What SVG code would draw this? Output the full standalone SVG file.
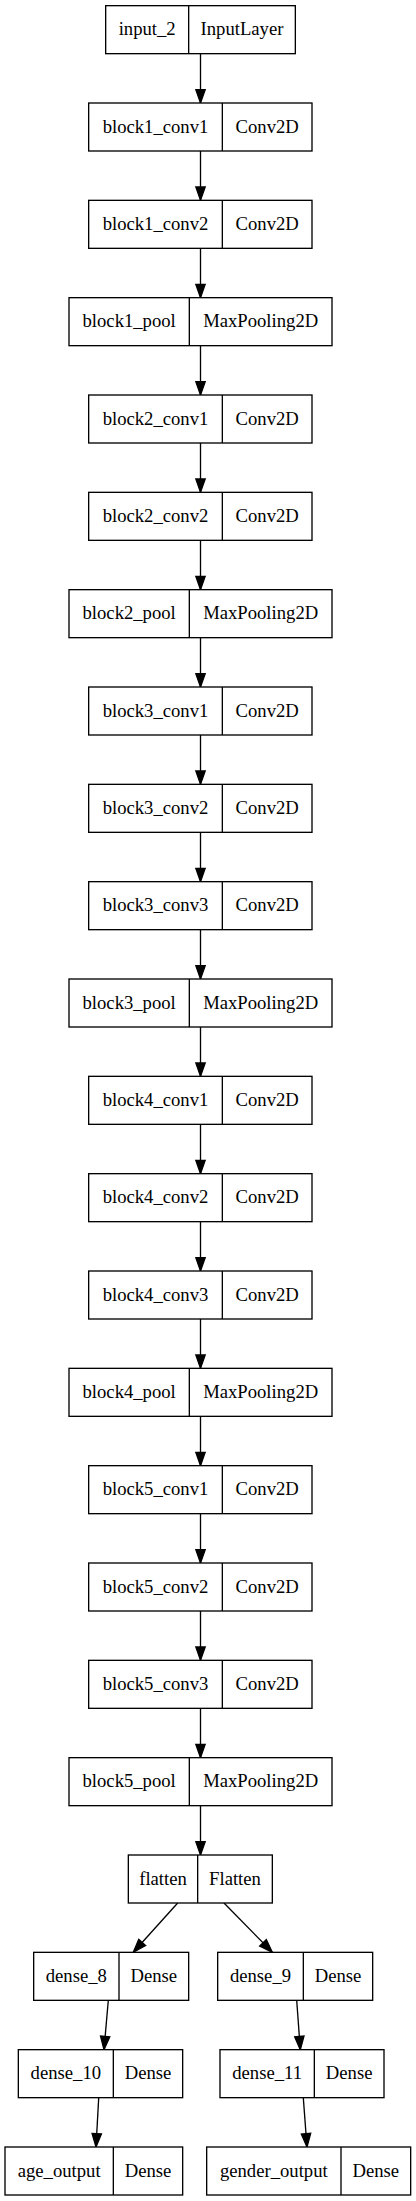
<svg xmlns="http://www.w3.org/2000/svg" width="416" height="2201" viewBox="0 0 416 2201">
<style>
.n rect{fill:#fff;stroke:#000;stroke-width:1.33}
.n line{stroke:#000;stroke-width:1.33}
.n text{font-family:"Liberation Serif","Times New Roman",serif;font-size:18.67px;text-anchor:middle;fill:#000}
.e path{fill:none;stroke:#000;stroke-width:1.33;marker-end:url(#ah)}
</style>
<defs>
<marker id="ah" markerUnits="userSpaceOnUse" markerWidth="15" markerHeight="11" refX="13.33" refY="4.67" orient="auto" overflow="visible">
<path d="M0,0 L13.33,4.67 L0,9.33 z" fill="#000" stroke="#000" stroke-width="1.33"/>
</marker>
</defs>
<rect width="416" height="2201" fill="#fff"/>
<g id="connectors" class="e">
<path d="M200.5,53.67 L200.5,103"/>
<path d="M200.5,151 L200.5,200.33"/>
<path d="M200.5,248.33 L200.5,297.67"/>
<path d="M200.5,345.67 L200.5,395"/>
<path d="M200.5,443 L200.5,492.33"/>
<path d="M200.5,540.33 L200.5,589.67"/>
<path d="M200.5,637.67 L200.5,687"/>
<path d="M200.5,735 L200.5,784.33"/>
<path d="M200.5,832.33 L200.5,881.67"/>
<path d="M200.5,929.67 L200.5,979"/>
<path d="M200.5,1027 L200.5,1076.33"/>
<path d="M200.5,1124.33 L200.5,1173.67"/>
<path d="M200.5,1221.67 L200.5,1271"/>
<path d="M200.5,1319 L200.5,1368.33"/>
<path d="M200.5,1416.33 L200.5,1465.67"/>
<path d="M200.5,1513.67 L200.5,1563"/>
<path d="M200.5,1611 L200.5,1660.33"/>
<path d="M200.5,1708.33 L200.5,1757.67"/>
<path d="M200.5,1805.67 L200.5,1855"/>
<path d="M177.7,1903 L133.3,1952.3"/>
<path d="M224,1903 L272.3,1952.3"/>
<path d="M108.3,2000.3 L104,2049.7"/>
<path d="M296.7,2000.3 L300.3,2049.7"/>
<path d="M98.7,2097.7 L96,2147"/>
<path d="M303.3,2097.7 L307,2147"/>
</g>
<g id="input_2" class="n"><rect x="105.67" y="5.67" width="189.67" height="48"/><line x1="188.67" y1="5.67" x2="188.67" y2="53.67"/><text x="147.17" y="35.17">input_2</text><text x="242" y="35.17">InputLayer</text></g>
<g id="block1_conv1" class="n"><rect x="88.67" y="103" width="223.33" height="48"/><line x1="222.33" y1="103" x2="222.33" y2="151"/><text x="155.5" y="132.5">block1_conv1</text><text x="267.17" y="132.5">Conv2D</text></g>
<g id="block1_conv2" class="n"><rect x="88.67" y="200.33" width="223.33" height="48"/><line x1="222.33" y1="200.33" x2="222.33" y2="248.33"/><text x="155.5" y="229.83">block1_conv2</text><text x="267.17" y="229.83">Conv2D</text></g>
<g id="block1_pool" class="n"><rect x="69" y="297.67" width="263" height="48"/><line x1="189.33" y1="297.67" x2="189.33" y2="345.67"/><text x="129.17" y="327.17">block1_pool</text><text x="260.67" y="327.17">MaxPooling2D</text></g>
<g id="block2_conv1" class="n"><rect x="88.67" y="395" width="223.33" height="48"/><line x1="222.33" y1="395" x2="222.33" y2="443"/><text x="155.5" y="424.5">block2_conv1</text><text x="267.17" y="424.5">Conv2D</text></g>
<g id="block2_conv2" class="n"><rect x="88.67" y="492.33" width="223.33" height="48"/><line x1="222.33" y1="492.33" x2="222.33" y2="540.33"/><text x="155.5" y="521.83">block2_conv2</text><text x="267.17" y="521.83">Conv2D</text></g>
<g id="block2_pool" class="n"><rect x="69" y="589.67" width="263" height="48"/><line x1="189.33" y1="589.67" x2="189.33" y2="637.67"/><text x="129.17" y="619.17">block2_pool</text><text x="260.67" y="619.17">MaxPooling2D</text></g>
<g id="block3_conv1" class="n"><rect x="88.67" y="687" width="223.33" height="48"/><line x1="222.33" y1="687" x2="222.33" y2="735"/><text x="155.5" y="716.5">block3_conv1</text><text x="267.17" y="716.5">Conv2D</text></g>
<g id="block3_conv2" class="n"><rect x="88.67" y="784.33" width="223.33" height="48"/><line x1="222.33" y1="784.33" x2="222.33" y2="832.33"/><text x="155.5" y="813.83">block3_conv2</text><text x="267.17" y="813.83">Conv2D</text></g>
<g id="block3_conv3" class="n"><rect x="88.67" y="881.67" width="223.33" height="48"/><line x1="222.33" y1="881.67" x2="222.33" y2="929.67"/><text x="155.5" y="911.17">block3_conv3</text><text x="267.17" y="911.17">Conv2D</text></g>
<g id="block3_pool" class="n"><rect x="69" y="979" width="263" height="48"/><line x1="189.33" y1="979" x2="189.33" y2="1027"/><text x="129.17" y="1008.5">block3_pool</text><text x="260.67" y="1008.5">MaxPooling2D</text></g>
<g id="block4_conv1" class="n"><rect x="88.67" y="1076.33" width="223.33" height="48"/><line x1="222.33" y1="1076.33" x2="222.33" y2="1124.33"/><text x="155.5" y="1105.83">block4_conv1</text><text x="267.17" y="1105.83">Conv2D</text></g>
<g id="block4_conv2" class="n"><rect x="88.67" y="1173.67" width="223.33" height="48"/><line x1="222.33" y1="1173.67" x2="222.33" y2="1221.67"/><text x="155.5" y="1203.17">block4_conv2</text><text x="267.17" y="1203.17">Conv2D</text></g>
<g id="block4_conv3" class="n"><rect x="88.67" y="1271" width="223.33" height="48"/><line x1="222.33" y1="1271" x2="222.33" y2="1319"/><text x="155.5" y="1300.5">block4_conv3</text><text x="267.17" y="1300.5">Conv2D</text></g>
<g id="block4_pool" class="n"><rect x="69" y="1368.33" width="263" height="48"/><line x1="189.33" y1="1368.33" x2="189.33" y2="1416.33"/><text x="129.17" y="1397.83">block4_pool</text><text x="260.67" y="1397.83">MaxPooling2D</text></g>
<g id="block5_conv1" class="n"><rect x="88.67" y="1465.67" width="223.33" height="48"/><line x1="222.33" y1="1465.67" x2="222.33" y2="1513.67"/><text x="155.5" y="1495.17">block5_conv1</text><text x="267.17" y="1495.17">Conv2D</text></g>
<g id="block5_conv2" class="n"><rect x="88.67" y="1563" width="223.33" height="48"/><line x1="222.33" y1="1563" x2="222.33" y2="1611"/><text x="155.5" y="1592.5">block5_conv2</text><text x="267.17" y="1592.5">Conv2D</text></g>
<g id="block5_conv3" class="n"><rect x="88.67" y="1660.33" width="223.33" height="48"/><line x1="222.33" y1="1660.33" x2="222.33" y2="1708.33"/><text x="155.5" y="1689.83">block5_conv3</text><text x="267.17" y="1689.83">Conv2D</text></g>
<g id="block5_pool" class="n"><rect x="69" y="1757.67" width="263" height="48"/><line x1="189.33" y1="1757.67" x2="189.33" y2="1805.67"/><text x="129.17" y="1787.17">block5_pool</text><text x="260.67" y="1787.17">MaxPooling2D</text></g>
<g id="flatten" class="n"><rect x="128.33" y="1855" width="144" height="48"/><line x1="197.67" y1="1855" x2="197.67" y2="1903"/><text x="163" y="1884.5">flatten</text><text x="235" y="1884.5">Flatten</text></g>
<g id="dense_8" class="n"><rect x="33.67" y="1952.33" width="155" height="48"/><line x1="119" y1="1952.33" x2="119" y2="2000.33"/><text x="76.33" y="1981.83">dense_8</text><text x="153.83" y="1981.83">Dense</text></g>
<g id="dense_9" class="n"><rect x="217.67" y="1952.33" width="155" height="48"/><line x1="303.33" y1="1952.33" x2="303.33" y2="2000.33"/><text x="260.5" y="1981.83">dense_9</text><text x="338" y="1981.83">Dense</text></g>
<g id="dense_10" class="n"><rect x="18.33" y="2049.67" width="164.33" height="48"/><line x1="113.33" y1="2049.67" x2="113.33" y2="2097.67"/><text x="65.83" y="2079.17">dense_10</text><text x="148" y="2079.17">Dense</text></g>
<g id="dense_11" class="n"><rect x="220" y="2049.67" width="164" height="48"/><line x1="314.33" y1="2049.67" x2="314.33" y2="2097.67"/><text x="267.17" y="2079.17">dense_11</text><text x="349.17" y="2079.17">Dense</text></g>
<g id="age_output" class="n"><rect x="5" y="2147" width="177.67" height="48"/><line x1="113.33" y1="2147" x2="113.33" y2="2195"/><text x="59.17" y="2176.5">age_output</text><text x="148" y="2176.5">Dense</text></g>
<g id="gender_output" class="n"><rect x="206.67" y="2147" width="204" height="48"/><line x1="341" y1="2147" x2="341" y2="2195"/><text x="273.83" y="2176.5">gender_output</text><text x="375.83" y="2176.5">Dense</text></g>
</svg>
